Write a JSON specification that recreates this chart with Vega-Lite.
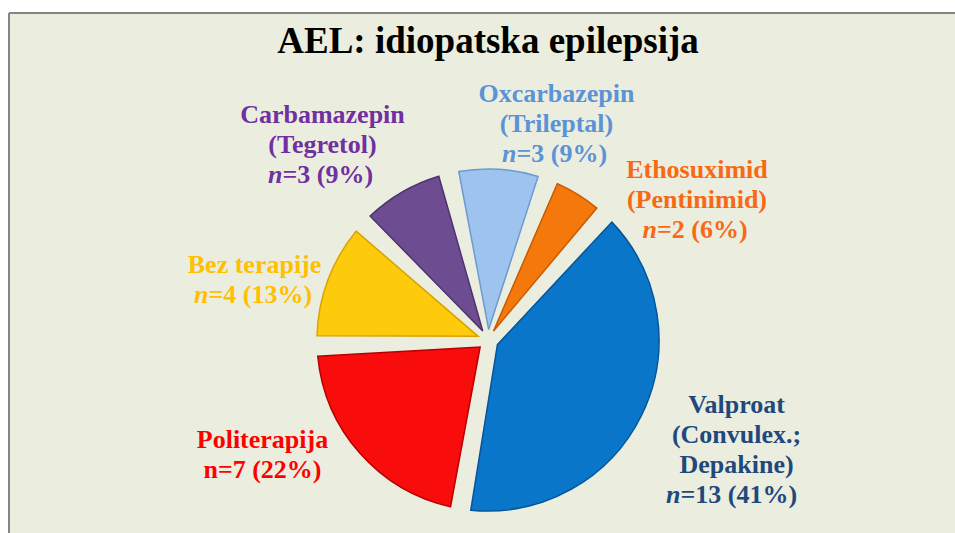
{
  "$schema": "https://vega.github.io/schema/vega-lite/v6.json",
  "autosize": "none",
  "width": 946,
  "height": 520,
  "padding": {"left": 9, "top": 13, "right": 0, "bottom": 0},
  "background": "white",
  "view": {"fill": "#EBEEDF", "stroke": "#858585", "strokeWidth": 2, "strokeDash": [946, 1466, 520, 0]},
  "title": {
    "text": "AEL: idiopatska epilepsija",
    "orient": "top",
    "anchor": "middle",
    "frame": "group",
    "baseline": "alphabetic",
    "offset": -42,
    "dy": 35,
    "dx": 6,
    "font": "Liberation Serif",
    "fontWeight": "bold",
    "fontSize": 37,
    "color": "#000000"
  },
  "data": {
    "values": [
      {"drug": "Valproat", "n": 13, "names": "Valproat\n(Convulex.;\nDepakine)", "count": "=13 (41%)"},
      {"drug": "Politerapija", "n": 7, "names": "Politerapija\nn=7 (22%)", "count": ""},
      {"drug": "Bez terapije", "n": 4, "names": "Bez terapije", "count": "=4 (13%)"},
      {"drug": "Carbamazepin", "n": 3, "names": "Carbamazepin\n(Tegretol)", "count": "=3 (9%)"},
      {"drug": "Oxcarbazepin", "n": 3, "names": "Oxcarbazepin\n(Trileptal)", "count": "=3 (9%)"},
      {"drug": "Ethosuximid", "n": 2, "names": "Ethosuximid\n(Pentinimid)", "count": "=2 (6%)"}
    ]
  },
  "encoding": {
    "theta": {"field": "n", "type": "quantitative", "stack": true, "scale": {"range": [0.75, 7.0332]}},
    "order": {"field": "n", "type": "quantitative", "sort": "descending"}
  },
  "layer": [
    {
      "mark": {"type": "arc", "x": {"expr": "width/2 + 6"}, "y": {"expr": "height/2 + 67"}, "radius": 171, "radius2": 10.5, "padAngle": 0.12, "strokeWidth": 1.5},
      "encoding": {
        "color": {
          "field": "drug", "type": "nominal", "legend": null,
          "scale": {
            "domain": ["Valproat", "Politerapija", "Bez terapije", "Carbamazepin", "Oxcarbazepin", "Ethosuximid"],
            "range": ["#0A76CA", "#F80C0C", "#FDCB0C", "#6D4C92", "#9DC3EE", "#F5780D"]
          }
        },
        "stroke": {
          "field": "drug", "type": "nominal", "legend": null,
          "scale": {
            "domain": ["Valproat", "Politerapija", "Bez terapije", "Carbamazepin", "Oxcarbazepin", "Ethosuximid"],
            "range": ["#05559A", "#B80000", "#D9A400", "#4E3370", "#6E9AD0", "#C85A00"]
          }
        }
      }
    },
    {
      "mark": {"type": "text", "x": {"expr": "width/2 + 6"}, "y": {"expr": "height/2 + 67"}, "radius": 230, "font": "Liberation Serif", "fontWeight": "bold", "fontSize": 26, "lineBreak": "\n", "lineHeight": 30, "align": "center", "baseline": "alphabetic", "dx": 42, "dy": -28, "color": "#1F497D"},
      "encoding": {"text": {"condition": {"test": "datum.drug === 'Valproat'", "field": "names"}, "value": ""}}
    },
    {
      "mark": {"type": "text", "x": {"expr": "width/2 + 6"}, "y": {"expr": "height/2 + 67"}, "radius": 230, "font": "Liberation Serif", "fontWeight": "bold", "fontStyle": "italic", "fontSize": 26, "align": "right", "baseline": "alphabetic", "dx": -14, "dy": 62, "color": "#1F497D"},
      "encoding": {"text": {"condition": {"test": "datum.drug === 'Valproat'", "value": "n"}, "value": ""}}
    },
    {
      "mark": {"type": "text", "x": {"expr": "width/2 + 6"}, "y": {"expr": "height/2 + 67"}, "radius": 230, "font": "Liberation Serif", "fontWeight": "bold", "fontSize": 26, "align": "left", "baseline": "alphabetic", "dx": -14, "dy": 62, "color": "#1F497D"},
      "encoding": {"text": {"condition": {"test": "datum.drug === 'Valproat'", "field": "count"}, "value": ""}}
    },
    {
      "mark": {"type": "text", "x": {"expr": "width/2 + 6"}, "y": {"expr": "height/2 + 67"}, "radius": 230, "font": "Liberation Serif", "fontWeight": "bold", "fontSize": 26, "lineBreak": "\n", "lineHeight": 30, "align": "center", "baseline": "alphabetic", "dx": -53, "dy": -44, "color": "#FF0000"},
      "encoding": {"text": {"condition": {"test": "datum.drug === 'Politerapija'", "field": "names"}, "value": ""}}
    },
    {
      "mark": {"type": "text", "x": {"expr": "width/2 + 6"}, "y": {"expr": "height/2 + 67"}, "radius": 230, "font": "Liberation Serif", "fontWeight": "bold", "fontSize": 26, "lineBreak": "\n", "lineHeight": 30, "align": "center", "baseline": "alphabetic", "dx": -18, "dy": 13, "color": "#FFC000"},
      "encoding": {"text": {"condition": {"test": "datum.drug === 'Bez terapije'", "field": "names"}, "value": ""}}
    },
    {
      "mark": {"type": "text", "x": {"expr": "width/2 + 6"}, "y": {"expr": "height/2 + 67"}, "radius": 230, "font": "Liberation Serif", "fontWeight": "bold", "fontStyle": "italic", "fontSize": 26, "align": "right", "baseline": "alphabetic", "dx": -64, "dy": 43, "color": "#FFC000"},
      "encoding": {"text": {"condition": {"test": "datum.drug === 'Bez terapije'", "value": "n"}, "value": ""}}
    },
    {
      "mark": {"type": "text", "x": {"expr": "width/2 + 6"}, "y": {"expr": "height/2 + 67"}, "radius": 230, "font": "Liberation Serif", "fontWeight": "bold", "fontSize": 26, "align": "left", "baseline": "alphabetic", "dx": -64, "dy": 43, "color": "#FFC000"},
      "encoding": {"text": {"condition": {"test": "datum.drug === 'Bez terapije'", "field": "count"}, "value": ""}}
    },
    {
      "mark": {"type": "text", "x": {"expr": "width/2 + 6"}, "y": {"expr": "height/2 + 67"}, "radius": 230, "font": "Liberation Serif", "fontWeight": "bold", "fontSize": 26, "lineBreak": "\n", "lineHeight": 30, "align": "center", "baseline": "alphabetic", "dx": -50, "dy": -18, "color": "#7030A0"},
      "encoding": {"text": {"condition": {"test": "datum.drug === 'Carbamazepin'", "field": "names"}, "value": ""}}
    },
    {
      "mark": {"type": "text", "x": {"expr": "width/2 + 6"}, "y": {"expr": "height/2 + 67"}, "radius": 230, "font": "Liberation Serif", "fontWeight": "bold", "fontStyle": "italic", "fontSize": 26, "align": "right", "baseline": "alphabetic", "dx": -90, "dy": 42, "color": "#7030A0"},
      "encoding": {"text": {"condition": {"test": "datum.drug === 'Carbamazepin'", "value": "n"}, "value": ""}}
    },
    {
      "mark": {"type": "text", "x": {"expr": "width/2 + 6"}, "y": {"expr": "height/2 + 67"}, "radius": 230, "font": "Liberation Serif", "fontWeight": "bold", "fontSize": 26, "align": "left", "baseline": "alphabetic", "dx": -90, "dy": 42, "color": "#7030A0"},
      "encoding": {"text": {"condition": {"test": "datum.drug === 'Carbamazepin'", "field": "count"}, "value": ""}}
    },
    {
      "mark": {"type": "text", "x": {"expr": "width/2 + 6"}, "y": {"expr": "height/2 + 67"}, "radius": 230, "font": "Liberation Serif", "fontWeight": "bold", "fontSize": 26, "lineBreak": "\n", "lineHeight": 30, "align": "center", "baseline": "alphabetic", "dx": 54, "dy": -8, "color": "#5C93D6"},
      "encoding": {"text": {"condition": {"test": "datum.drug === 'Oxcarbazepin'", "field": "names"}, "value": ""}}
    },
    {
      "mark": {"type": "text", "x": {"expr": "width/2 + 6"}, "y": {"expr": "height/2 + 67"}, "radius": 230, "font": "Liberation Serif", "fontWeight": "bold", "fontStyle": "italic", "fontSize": 26, "align": "right", "baseline": "alphabetic", "dx": 14, "dy": 52, "color": "#5C93D6"},
      "encoding": {"text": {"condition": {"test": "datum.drug === 'Oxcarbazepin'", "value": "n"}, "value": ""}}
    },
    {
      "mark": {"type": "text", "x": {"expr": "width/2 + 6"}, "y": {"expr": "height/2 + 67"}, "radius": 230, "font": "Liberation Serif", "fontWeight": "bold", "fontSize": 26, "align": "left", "baseline": "alphabetic", "dx": 14, "dy": 52, "color": "#5C93D6"},
      "encoding": {"text": {"condition": {"test": "datum.drug === 'Oxcarbazepin'", "field": "count"}, "value": ""}}
    },
    {
      "mark": {"type": "text", "x": {"expr": "width/2 + 6"}, "y": {"expr": "height/2 + 67"}, "radius": 230, "font": "Liberation Serif", "fontWeight": "bold", "fontSize": 26, "lineBreak": "\n", "lineHeight": 30, "align": "center", "baseline": "alphabetic", "dx": 88, "dy": 34, "color": "#F96914"},
      "encoding": {"text": {"condition": {"test": "datum.drug === 'Ethosuximid'", "field": "names"}, "value": ""}}
    },
    {
      "mark": {"type": "text", "x": {"expr": "width/2 + 6"}, "y": {"expr": "height/2 + 67"}, "radius": 230, "font": "Liberation Serif", "fontWeight": "bold", "fontStyle": "italic", "fontSize": 26, "align": "right", "baseline": "alphabetic", "dx": 48, "dy": 94, "color": "#F96914"},
      "encoding": {"text": {"condition": {"test": "datum.drug === 'Ethosuximid'", "value": "n"}, "value": ""}}
    },
    {
      "mark": {"type": "text", "x": {"expr": "width/2 + 6"}, "y": {"expr": "height/2 + 67"}, "radius": 230, "font": "Liberation Serif", "fontWeight": "bold", "fontSize": 26, "align": "left", "baseline": "alphabetic", "dx": 48, "dy": 94, "color": "#F96914"},
      "encoding": {"text": {"condition": {"test": "datum.drug === 'Ethosuximid'", "field": "count"}, "value": ""}}
    }
  ]
}
